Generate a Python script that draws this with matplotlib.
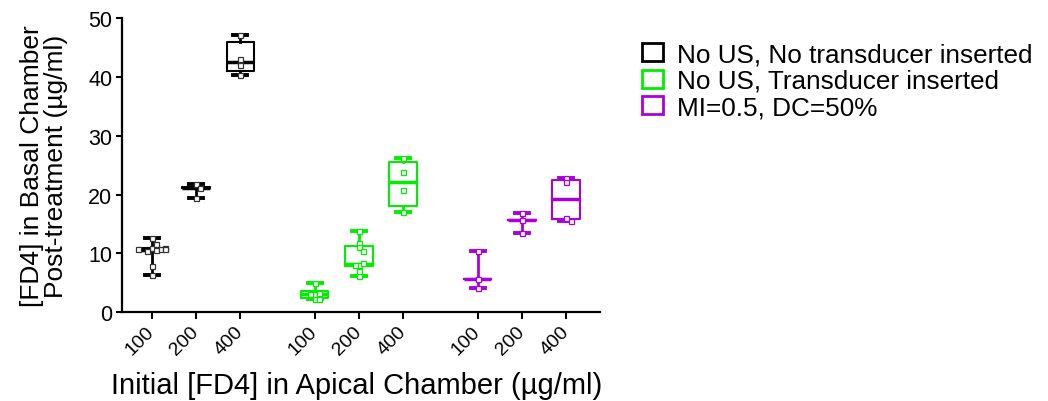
import numpy as np
import matplotlib.pyplot as plt
from matplotlib.patches import Patch

plt.rcParams['font.family'] = ['Liberation Sans', 'DejaVu Sans']

doses = ['100', '200', '400']
groups = ['No US, No transducer inserted', 'No US, Transducer inserted', 'MI=0.5, DC=50%']
colors = ['black', '#00ee00', '#aa00dd']

# FD4 recovered in basal chamber (ug/ml), one list per starting dose
no_us_no_td = [
    [12.6, 11.0, 10.6, 10.5, 10.7, 11.6, 10.9, 10.8, 10.7, 7.8, 6.3],
    [21.8, 21.2, 19.4],
    [47.2, 43.0, 42.0, 40.4],
]
no_us_td = [
    [5.0, 3.1, 3.2, 3.05, 2.3, 2.3],
    [13.9, 11.8, 11.1, 10.5, 8.1, 8.3, 8.0, 7.1, 6.2],
    [26.3, 23.8, 20.7, 17.0],
]
mi05_dc50 = [
    [10.4, 5.7, 4.1],
    [16.8, 15.7, 13.5],
    [22.9, 22.1, 16.1, 15.6],
]

# box quartiles per dose, same order as above
q1 = [[10.4, 21.2, 41.0], [2.5, 7.8, 18.0], [5.7, 15.7, 15.8]]
med = [[10.6, 21.2, 42.5], [3.1, 8.2, 22.2], [5.7, 15.7, 19.2]]
q3 = [[10.9, 21.3, 45.9], [3.6, 11.3, 25.5], [5.7, 15.7, 22.5]]

data = [no_us_no_td, no_us_td, mi05_dc50]


def spread(vals, step=0.1, tol=0.7):
    # push overlapping points sideways, alternating left/right
    offs = []
    placed = []
    for v in vals:
        n = sum(abs(v - p) < tol for p in placed)
        k = (n + 1) // 2
        offs.append(k * step * (1 if n % 2 else -1) if n else 0.0)
        placed.append(v)
    return np.array(offs)


fig = plt.figure(figsize=(10.48, 4.02), dpi=100)
ax = fig.add_axes([0.1164, 0.2206, 0.456, 0.732])

gap = 3.68
ticks = []
for g, (series, col) in enumerate(zip(data, colors)):
    pos = [g * gap + d for d in range(len(doses))]
    ticks += pos
    stats = []
    for d, vals in enumerate(series):
        stats.append(dict(med=med[g][d], q1=q1[g][d], q3=q3[g][d],
                          whislo=min(vals), whishi=max(vals), fliers=[]))
    ax.bxp(stats, positions=pos, widths=0.62, capwidths=0.32,
           showfliers=False, patch_artist=False,
           boxprops=dict(color=col, linewidth=1.5),
           medianprops=dict(color=col, linewidth=2.5),
           whiskerprops=dict(color=col, linewidth=2.0),
           capprops=dict(color=col, linewidth=2.8))
    for p, vals in zip(pos, series):
        x = p + spread(vals)
        ax.plot(x, vals, 's', ms=3.6, mfc='white', mec=col if g else '#333333',
                mew=0.9, ls='none', zorder=5, clip_on=False)

ax.set_xlim(-0.67, 10.12)
ax.set_ylim(0, 50)
ax.set_yticks(np.arange(0, 51, 10))
ax.set_xticks(ticks)
ax.set_xticklabels(doses * 3, rotation=45, ha='right', va='center',
                   rotation_mode='anchor', fontsize=14)
ax.tick_params(axis='y', labelsize=15.5, length=4, width=1.5, pad=3)
ax.tick_params(axis='x', length=5, width=1.5, pad=7)

for s in ['top', 'right']:
    ax.spines[s].set_visible(False)
for s in ['left', 'bottom']:
    ax.spines[s].set_linewidth(1.6)

ax.set_ylabel('[FD4] in Basal Chamber\nPost-treatment (\u00b5g/ml)',
              fontsize=19, linespacing=1.0)
ax.yaxis.set_label_coords(-0.113, 0.5)
ax.set_xlabel('Initial [FD4] in Apical Chamber (\u00b5g/ml)', fontsize=21)
ax.xaxis.set_label_coords(0.49, -0.2)

handles = [Patch(facecolor='white', edgecolor=c, linewidth=2) for c in colors]
fig.legend(handles, groups, loc='upper left', bbox_to_anchor=(0.6, 0.925),
           frameon=False, fontsize=18.8, handlelength=0.8, handleheight=0.7,
           handletextpad=0.55, labelspacing=0.1, borderpad=0)

fig.savefig('out.png', dpi=100)
